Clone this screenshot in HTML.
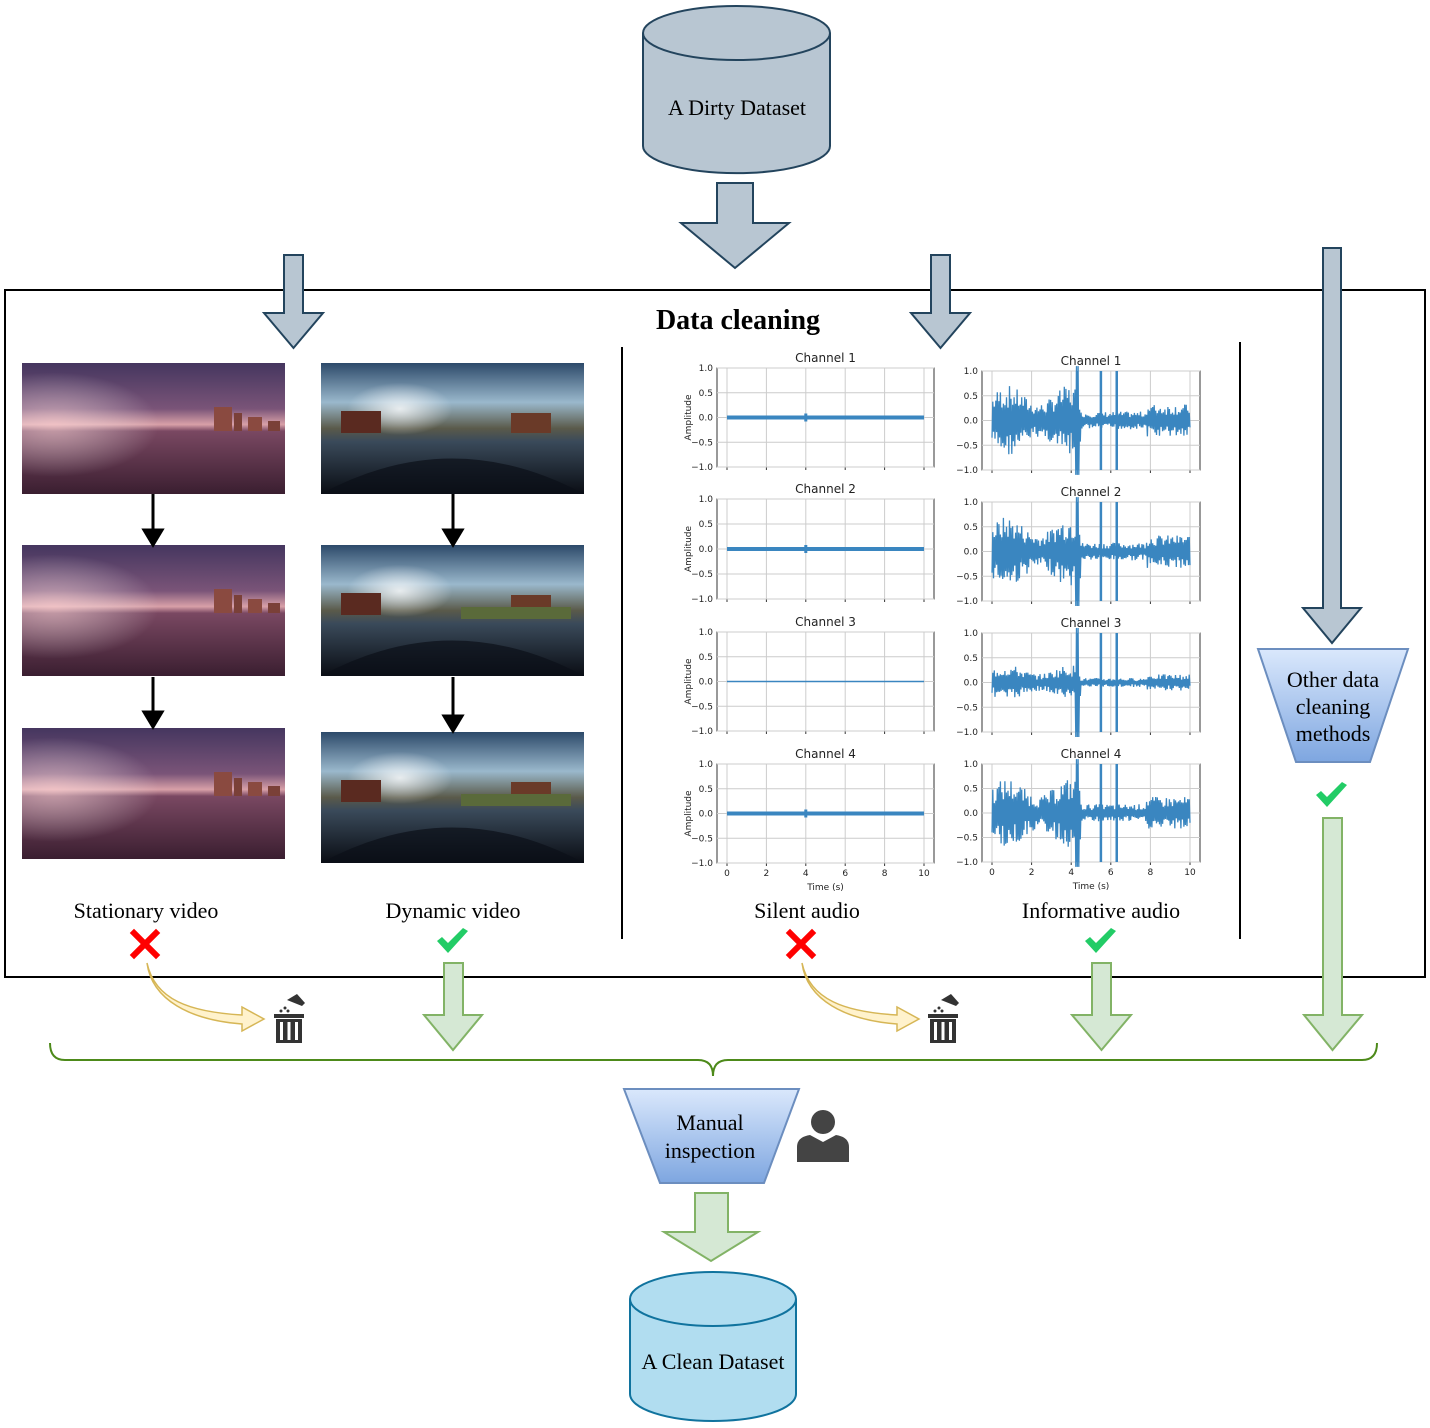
<!DOCTYPE html>
<html><head><meta charset="utf-8"><style>
html,body{margin:0;padding:0;background:#fff}
svg{display:block}
.s{font-family:"Liberation Serif",serif;fill:#000}
.p{font-family:"DejaVu Sans","Liberation Sans",sans-serif;fill:#222}
</style></head><body>
<svg id="sv" width="1430" height="1428" viewBox="0 0 1430 1428" xmlns="http://www.w3.org/2000/svg">
<defs>
<linearGradient id="tg" x1="0" y1="0" x2="0" y2="1"><stop offset="0" stop-color="#dae8fc"/><stop offset="1" stop-color="#7ea6e0"/></linearGradient>
<linearGradient id="sv1" x1="0" y1="0" x2="0" y2="1"><stop offset="0" stop-color="#45365f"/><stop offset="0.35" stop-color="#7a5478"/><stop offset="0.47" stop-color="#d8a0a8"/><stop offset="0.52" stop-color="#7a4862"/><stop offset="1" stop-color="#3a1e30"/></linearGradient>
<radialGradient id="glow" cx="0.12" cy="0.47" r="0.4"><stop offset="0" stop-color="#ffd8d8" stop-opacity="0.6"/><stop offset="1" stop-color="#ffffff" stop-opacity="0"/></radialGradient>
<linearGradient id="dv1" x1="0" y1="0" x2="0" y2="1"><stop offset="0" stop-color="#2d4a6a"/><stop offset="0.3" stop-color="#9ab8cc"/><stop offset="0.5" stop-color="#5a5a4a"/><stop offset="0.6" stop-color="#3a4a5a"/><stop offset="1" stop-color="#0a0d14"/></linearGradient>
<radialGradient id="sun" cx="0.3" cy="0.35" r="0.2"><stop offset="0" stop-color="#fff" stop-opacity="0.8"/><stop offset="1" stop-color="#fff" stop-opacity="0"/></radialGradient>
</defs>

<path d="M643,33 L643,146 A93,27 0 0 0 830,146 L830,33" fill="#b8c6d2" stroke="#23445d" stroke-width="2"/>
<ellipse cx="736.5" cy="33" rx="93.5" ry="27" fill="#b8c6d2" stroke="#23445d" stroke-width="2"/>
<text class="s" x="737" y="115" font-size="22" text-anchor="middle">A Dirty Dataset</text>

<polygon points="717,183 753,183 753,223 789,223 735,268 681,223 717,223" fill="#b8c6d2" stroke="#23445d" stroke-width="2"/>

<rect x="5" y="290" width="1420" height="687" fill="none" stroke="#000" stroke-width="2"/>
<text class="s" x="738" y="329" font-size="28" font-weight="bold" text-anchor="middle">Data cleaning</text>
<line x1="622" y1="347" x2="622" y2="939" stroke="#000" stroke-width="2"/>
<line x1="1240" y1="342" x2="1240" y2="939" stroke="#000" stroke-width="2"/>

<polygon points="284,255 303,255 303,313 323,313 293.5,348 264,313 284,313" fill="#b8c6d2" stroke="#23445d" stroke-width="2"/>
<polygon points="931,255 950,255 950,313 970,313 940.5,348 911,313 931,313" fill="#b8c6d2" stroke="#23445d" stroke-width="2"/>
<polygon points="1323,248 1341,248 1341,608 1361,608 1332,643 1303,608 1323,608" fill="#b8c6d2" stroke="#23445d" stroke-width="2"/>

<g id="imgs"></g>

<g stroke="#000" stroke-width="3" fill="#000">
<line x1="153" y1="494" x2="153" y2="533"/><polygon points="144,530 162,530 153,545"/>
<line x1="153" y1="677" x2="153" y2="715"/><polygon points="144,712 162,712 153,727"/>
<line x1="453" y1="494" x2="453" y2="533"/><polygon points="444,530 462,530 453,545"/>
<line x1="453" y1="677" x2="453" y2="719"/><polygon points="444,716 462,716 453,731"/>
</g>

<g id="plots"></g>

<text class="s" x="146" y="918" font-size="22" text-anchor="middle">Stationary video</text>
<text class="s" x="453" y="918" font-size="22" text-anchor="middle">Dynamic video</text>
<text class="s" x="807" y="918" font-size="22" text-anchor="middle">Silent audio</text>
<text class="s" x="1101" y="918" font-size="22" text-anchor="middle">Informative audio</text>

<g stroke="#f00" stroke-width="6" stroke-linecap="square">
<line x1="134" y1="933" x2="156" y2="955"/><line x1="156" y1="933" x2="134" y2="955"/>
<line x1="790" y1="933" x2="812" y2="955"/><line x1="812" y1="933" x2="790" y2="955"/>
</g>
<g fill="#22cc66">
<path d="M437,941 l5,-4 l6,6 l15,-15 l5,3 l-20,22 z"/>
<path d="M1085,941 l5,-4 l6,6 l15,-15 l5,3 l-20,22 z"/>
<path d="M1316,795 l5,-4 l6,6 l15,-15 l5,3 l-20,22 z"/>
</g>

<path d="M147,963 C155,1000 190,1012 242,1015 L242,1007 L264,1019 L242,1031 L242,1024 C190,1020 152,1000 147,963 Z" fill="#fff2cc" stroke="#d6b656" stroke-width="1.5"/>
<path d="M802,963 C810,1000 845,1012 897,1015 L897,1007 L919,1019 L897,1031 L897,1024 C845,1020 807,1000 802,963 Z" fill="#fff2cc" stroke="#d6b656" stroke-width="1.5"/>

<g id="trash1" fill="#333">
<rect x="274" y="1014" width="30" height="4"/>
<rect x="276" y="1019" width="26" height="24"/>
<rect x="280" y="1022" width="3" height="18" fill="#fff"/><rect x="287.5" y="1022" width="3" height="18" fill="#fff"/><rect x="295" y="1022" width="3" height="18" fill="#fff"/>
<path d="M287,1000 l10,-6 l8,9 l-3,3 z"/>
<circle cx="285" cy="1008" r="1.5"/><circle cx="281" cy="1011" r="1.5"/><circle cx="288" cy="1011" r="1.5"/>
</g>
<use href="#trash1" x="654" y="0"/>

<polygon points="444,963 463,963 463,1015 482,1015 453,1050 424,1015 444,1015" fill="#d5e8d4" stroke="#82b366" stroke-width="2"/>
<polygon points="1092,963 1111,963 1111,1015 1131,1015 1101.5,1050 1072,1015 1092,1015" fill="#d5e8d4" stroke="#82b366" stroke-width="2"/>
<polygon points="1323,818 1342,818 1342,1015 1362,1015 1332.5,1050 1304,1015 1323,1015" fill="#d5e8d4" stroke="#82b366" stroke-width="2"/>

<path d="M50,1043 Q50,1060 65,1060 L698,1060 Q713,1060 713,1076 Q713,1060 728,1060 L1362,1060 Q1377,1060 1377,1043" fill="none" stroke="#4d8a1a" stroke-width="2"/>

<polygon points="1258,649 1408,649 1370,762 1296,762" fill="url(#tg)" stroke="#6c8ebf" stroke-width="2"/>
<text class="s" font-size="22" text-anchor="middle"><tspan x="1333" y="687">Other data</tspan><tspan x="1333" y="714">cleaning</tspan><tspan x="1333" y="741">methods</tspan></text>

<polygon points="624,1089 799,1089 764,1183 660,1183" fill="url(#tg)" stroke="#6c8ebf" stroke-width="2"/>
<text class="s" font-size="22" text-anchor="middle"><tspan x="710" y="1130">Manual</tspan><tspan x="710" y="1158">inspection</tspan></text>

<g fill="#444">
<circle cx="823" cy="1122" r="12"/>
<path d="M797,1162 L797,1147 Q797,1137 810,1135 L823,1142 L836,1135 Q849,1137 849,1147 L849,1162 Z"/>
</g>

<polygon points="695,1193 728,1193 728,1232 758,1232 711,1261 664,1232 695,1232" fill="#d5e8d4" stroke="#82b366" stroke-width="2"/>

<path d="M630,1299 L630,1394 A83,27 0 0 0 796,1394 L796,1299" fill="#b1ddf0" stroke="#10739e" stroke-width="2"/>
<ellipse cx="713" cy="1299" rx="83" ry="27" fill="#b1ddf0" stroke="#10739e" stroke-width="2"/>
<text class="s" x="713" y="1369" font-size="22" text-anchor="middle">A Clean Dataset</text>
</svg>
<script>
(function(){
var NS="http://www.w3.org/2000/svg";
function el(p,t,a,txt){var e=document.createElementNS(NS,t);for(var k in a)e.setAttribute(k,a[k]);if(txt!=null)e.textContent=txt;p.appendChild(e);return e;}
var imgs=document.getElementById("imgs");
[[22,363],[22,545],[22,728]].forEach(function(q){
 el(imgs,"rect",{x:q[0],y:q[1],width:263,height:131,fill:"url(#sv1)"});
 el(imgs,"rect",{x:q[0],y:q[1],width:263,height:131,fill:"url(#glow)"});
 var x=q[0],y=q[1];
 el(imgs,"rect",{x:x+192,y:y+44,width:18,height:24,fill:"#8a4a40"});
 el(imgs,"rect",{x:x+212,y:y+50,width:8,height:18,fill:"#7a4038"});
 el(imgs,"rect",{x:x+226,y:y+54,width:14,height:14,fill:"#8a4a40"});
 el(imgs,"rect",{x:x+246,y:y+58,width:12,height:10,fill:"#7a4038"});
});
[[321,363],[321,545],[321,732]].forEach(function(q,i){
 var x=q[0],y=q[1];
 el(imgs,"rect",{x:x,y:y,width:263,height:131,fill:"url(#dv1)"});
 el(imgs,"rect",{x:x,y:y,width:263,height:131,fill:"url(#sun)"});
 el(imgs,"path",{d:"M"+x+","+(y+131)+" Q"+(x+131)+","+(y+60)+" "+(x+263)+","+(y+131)+" Z",fill:"#0c1018",opacity:0.7});
 el(imgs,"rect",{x:x+20,y:y+48,width:40,height:22,fill:"#5a2a20"});
 el(imgs,"rect",{x:x+190,y:y+50,width:40,height:20,fill:"#6a3a28"});
 if(i>0)el(imgs,"rect",{x:x+140,y:y+62,width:110,height:12,fill:"#5a6a3a"});
});
var g=document.getElementById("plots");
var seed=7;function rnd(){seed=(seed*9301+49297)%233280;return seed/233280;}
function plot(x0,x1,y0,y1,d0,d1,title,kind,showY,showX,ch){
 el(g,"rect",{x:x0,y:y0,width:x1-x0,height:y1-y0,fill:"#fff",stroke:"#333","stroke-width":1});
 var ym=(y0+y1)/2,h=(y1-y0)/2;
 for(var t=0;t<=10;t+=2){var xx=d0+(d1-d0)*t/10;el(g,"line",{x1:xx,y1:y0,x2:xx,y2:y1,stroke:"#ccc","stroke-width":1});
  el(g,"line",{x1:xx,y1:y1,x2:xx,y2:y1+3,stroke:"#333"});
  if(showX)el(g,"text",{x:xx,y:y1+13,"font-size":9,"text-anchor":"middle",class:"p"},String(t));}
 [1,0.5,0,-0.5,-1].forEach(function(v){var yy=ym-v*h;el(g,"line",{x1:x0,y1:yy,x2:x1,y2:yy,stroke:"#ccc"});
  el(g,"text",{x:x0-4,y:yy+3,"font-size":9,"text-anchor":"end",class:"p"},(v<0?"\u2212"+(-v).toFixed(1):v.toFixed(1)));});
 el(g,"text",{x:(x0+x1)/2,y:y0-6,"font-size":12,"text-anchor":"middle",class:"p"},title);
 if(showY)el(g,"text",{x:x0-26,y:ym,"font-size":9,"text-anchor":"middle",class:"p",transform:"rotate(-90 "+(x0-26)+" "+ym+")"},"Amplitude");
 if(showX)el(g,"text",{x:(d0+d1)/2,y:y1+27,"font-size":9,"text-anchor":"middle",class:"p"},"Time (s)");
 if(kind==0){
  el(g,"line",{x1:d0,y1:ym,x2:d1,y2:ym,stroke:"#3a86c0","stroke-width":4});
  var xc=d0+(d1-d0)*0.4;el(g,"line",{x1:xc,y1:ym-4,x2:xc,y2:ym+4,stroke:"#3a86c0","stroke-width":3});
  return;}
 if(kind==2){el(g,"line",{x1:d0,y1:ym,x2:d1,y2:ym,stroke:"#3a86c0","stroke-width":1.5});return;}
 var pts="";var N=260;
 for(var i=0;i<=N;i++){var f=i/N,xx=d0+(d1-d0)*f,a;
  var env=f<0.45?0.35+0.25*Math.sin(f*20)*0.5:0.12+(f>0.78?0.1:0);if(ch==2)env*=0.5;a=env*(0.5+rnd());
  if(Math.abs(f-0.43)<0.01)a=1.1;
  var s=(i%2?1:-1)*a;pts+=(i?"L":"M")+xx.toFixed(1)+","+(ym-s*h).toFixed(1);}
 el(g,"path",{d:pts,fill:"none",stroke:"#3a86c0","stroke-width":1.3});
 [0.55,0.63].forEach(function(f){var xx=d0+(d1-d0)*f;el(g,"line",{x1:xx,y1:y0,x2:xx,y2:y1,stroke:"#3a86c0","stroke-width":2.5});});
 el(g,"line",{x1:d0+(d1-d0)*0.43,y1:y0,x2:d0+(d1-d0)*0.43,y2:y1,stroke:"#3a86c0","stroke-width":2.5});
}
var L=[[368,467],[499,599],[632,731],[764,863]],R=[[371,470],[502,601],[633,732],[764,862]];
for(var k=0;k<4;k++){
 plot(717,934,L[k][0],L[k][1],727,924,"Channel "+(k+1),k==2?2:0,true,k==3,k);
 plot(982,1200,R[k][0],R[k][1],992,1190,"Channel "+(k+1),1,false,k==3,k);
}
})();
</script>
</body></html>
